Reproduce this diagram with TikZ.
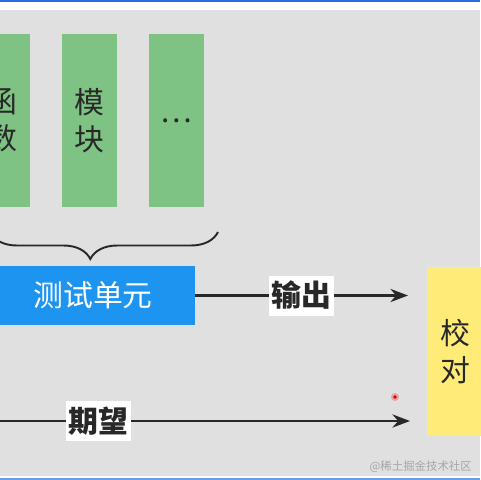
\documentclass[tikz,border=0pt]{standalone}
\usepackage{fontspec}
\setmainfont{Noto Sans CJK SC}
\usepackage{xcolor}
\usetikzlibrary{arrows.meta,decorations.pathreplacing,calc}
\definecolor{bggrey}{RGB}{224,224,224}
\definecolor{barblue}{RGB}{40,110,225}
\definecolor{leafgreen}{RGB}{126,195,131}
\definecolor{unitblue}{RGB}{28,148,240}
\definecolor{checkyellow}{RGB}{255,236,120}
\definecolor{inkgrey}{RGB}{40,40,40}
\tikzset{
	part/.style={
			fill=leafgreen, minimum width=1.1cm, minimum height=3.46cm,
			inner sep=0pt, align=center, text=inkgrey,
			font=\fontsize{17}{21}\selectfont
		},
	tag/.style={
			fill=white, minimum width=1.3cm, minimum height=0.8cm,
			inner sep=0pt, text=inkgrey, font=\fontsize{17}{21}\selectfont\bfseries
		},
	flow/.style={line width=1.4pt, draw=inkgrey, -{Stealth[length=10pt,width=7.5pt]}}
}

\begin{document}
\begin{tikzpicture}[x=0.02cm, y=-0.02cm]
			\fill[bggrey] (0,0) rectangle (480,480);
			\fill[barblue] (0,0) rectangle (480,2);
			\fill[white] (0,2) rectangle (480,10);
			\fill[white] (0,476) rectangle (480,478);
			\fill[barblue!70] (0,478) rectangle (480,480);
			\useasboundingbox (0,0) rectangle (480,480);

			\node[part] (func) at (2.5,120.5) {函\\数};
			\node[part] (module) at (89.5,120.5) {模\\块};
			\node[part] (more) at (176.5,120.5) {…};

			\draw[line width=1.1pt, draw=inkgrey, decorate,
				decoration={brace, amplitude=0.54cm, aspect=0.56}]
				(218,232) -- (-10,232);

			\node[fill=unitblue, minimum width=4.08cm, minimum height=1.18cm,
				text=white, font=\fontsize{17}{21}\selectfont] (unit) at (93,295.5) {测试单元};
			\node[fill=checkyellow, minimum width=1.12cm, minimum height=3.38cm,
				inner sep=0pt, align=center, text=inkgrey,
				font=\fontsize{17}{21}\selectfont] (check) at (455,351.5) {校\\对};

			\coordinate (outend) at (408,295.5);
			\coordinate (expstart) at (-5,421);
			\coordinate (expend) at (410,421);

			\draw[flow] (unit.east) -- node[tag] (out) {输出} (outend);
			\draw[flow] (expstart) -- node[tag, pos=0.25] (exp) {期望} (expend);

			\fill[red!80, opacity=0.35] (395,397) circle (4);
			\fill[red!85!black] (395,397) circle (1.8);
			\node[text=gray!70, font=\fontsize{6.5}{8}\selectfont, anchor=east] (mark) at (478,467) {@稀土掘金技术社区};
		\end{tikzpicture}
\end{document}
